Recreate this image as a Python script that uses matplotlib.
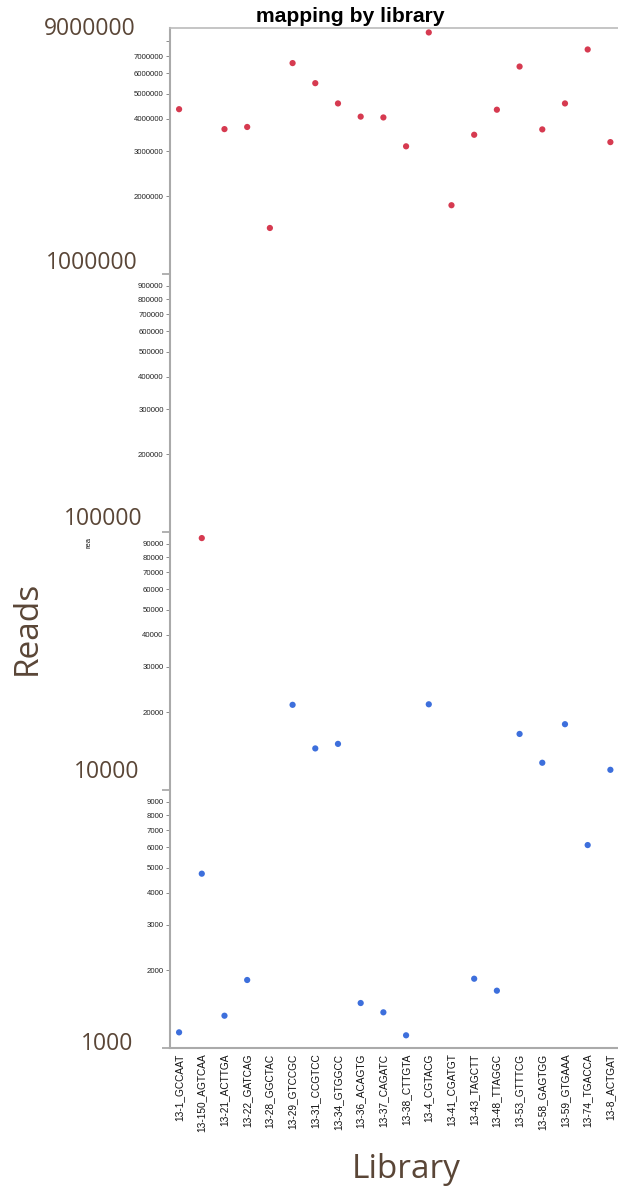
import numpy as np
import matplotlib
matplotlib.use("Agg")
import matplotlib.pyplot as plt
from matplotlib.ticker import FixedLocator, FuncFormatter, NullFormatter

# library names along the x axis
libraries = ["13-1_GCCAAT", "13-150_AGTCAA", "13-21_ACTTGA", "13-22_GATCAG",
             "13-28_GGCTAC", "13-29_GTCCGC", "13-31_CCGTCC", "13-34_GTGGCC",
             "13-36_ACAGTG", "13-37_CAGATC", "13-38_CTTGTA", "13-4_CGTACG",
             "13-41_CGATGT", "13-43_TAGCTT", "13-48_TTAGGC", "13-53_GTTTCG",
             "13-58_GAGTGG", "13-59_GTGAAA", "13-74_TGACCA", "13-8_ACTGAT"]

# red series (upper group of points)
upper_reads = [4360000, 94800, 3650000, 3720000, 1510000, 6580000, 5500000, 4590000,
               4080000, 4050000, 3130000, 8650000, 1850000, 3470000, 4340000, 6380000,
               3640000, 4590000, 7430000, 3250000]

# blue series (lower group of points), nan where there is no point
lower_reads = [1150, 4740, 1334, 1835, np.nan, 21400, 14500, 15100,
               1494, 1375, 1120, 21500, np.nan, 1856, 1668, 16500,
               12760, 18000, 6120, 11980]

# big brown labels drawn next to the axis
big_labels = [9000000, 1000000, 100000, 10000, 1000]
# nudge of each big label from its tick, in points (sideways, up)
big_label_shift = [(-1.5, -0.7), (0, 8.3), (3.6, 9.6), (0.7, 13.3), (-3.6, 3)]

# minor ticks 2..9 for each decade, 8000000 is left without a label
minor_ticks = [m * 10 ** e for e in range(3, 7) for m in range(2, 10) if m * 10 ** e < 9000000]
unlabeled = [8000000]

brown = "#5a4637"
grey = "#aaaaaa"

fig = plt.figure(figsize=(6.18, 11.94), dpi=100)
ax = fig.add_axes([170 / 618, 1 - 1048 / 1194, 454 / 618, 1020 / 1194])

x = np.arange(len(libraries))
ax.scatter(x, upper_reads, s=20, color="#d63a50", edgecolors="none", zorder=3)
ax.scatter(x, lower_reads, s=20, color="#3d6fdc", edgecolors="none", zorder=3)

# log scale from 1000 up to 9 million
ax.set_yscale("log")
ax.set_ylim(1000, 9000000)
ax.set_xlim(-0.4, len(libraries) - 0.4)

# decade ticks are long grey marks with no small label
ax.yaxis.set_major_locator(FixedLocator([1000, 10000, 100000, 1000000]))
ax.yaxis.set_major_formatter(NullFormatter())
ax.tick_params(axis="y", which="major", length=6, width=1.3, color=grey)

# minor ticks get the small labels
ax.yaxis.set_minor_locator(FixedLocator(minor_ticks))
ax.yaxis.set_minor_formatter(FuncFormatter(lambda v, p: "" if round(v) in unlabeled else str(int(round(v)))))
ax.tick_params(axis="y", which="minor", length=3, width=0.6, color="#777777",
               labelsize=5.6, labelcolor="#222222", pad=1.5)
for lab in ax.get_yticklabels(minor=True):
    lab.set_family(["Liberation Sans", "DejaVu Sans"])

# category labels rotated under the axis
ax.set_xticks(x)
ax.set_xticklabels(libraries, rotation=90, fontsize=7.3, family=["Liberation Sans", "DejaVu Sans"],
                   color="#111111")
ax.tick_params(axis="x", length=0, pad=4)

# grey frame on left, top and bottom
for side in ["left", "top", "bottom"]:
    ax.spines[side].set_color(grey)
    ax.spines[side].set_linewidth(1.5)
ax.spines["top"].set_color("#bbbbbb")
ax.spines["top"].set_linewidth(1.2)
ax.spines["right"].set_visible(False)

# big brown numbers to the left of the axis
for val, shift in zip(big_labels, big_label_shift):
    ax.annotate(str(val), xy=(138 / 618, val), xycoords=("figure fraction", "data"),
                xytext=shift, textcoords="offset points", ha="right", va="center",
                fontsize=16.5, color=brown, family=["Open Sans", "DejaVu Sans"], annotation_clip=False)

# axis titles and chart title
fig.text(27 / 618, 1 - 628 / 1194, "Reads", rotation=90, ha="center", va="center",
         fontsize=24, color=brown, family=["Open Sans", "DejaVu Sans"])
fig.text(406 / 618, 1 - 1170 / 1194, "Library", ha="center", va="center",
         fontsize=24, color=brown, family=["Open Sans", "DejaVu Sans"])
fig.text(89 / 618, 1 - 543 / 1194, "rea", rotation=90, ha="center", va="center",
         fontsize=5.5, color="#111111", family=["Liberation Sans", "DejaVu Sans"])
fig.text(350 / 618, 1 - 16 / 1194, "mapping by library", ha="center", va="center",
         fontsize=15.2, fontweight="bold", color="#000000", family=["Liberation Sans", "DejaVu Sans"])

fig.savefig("out.png", dpi=100)
